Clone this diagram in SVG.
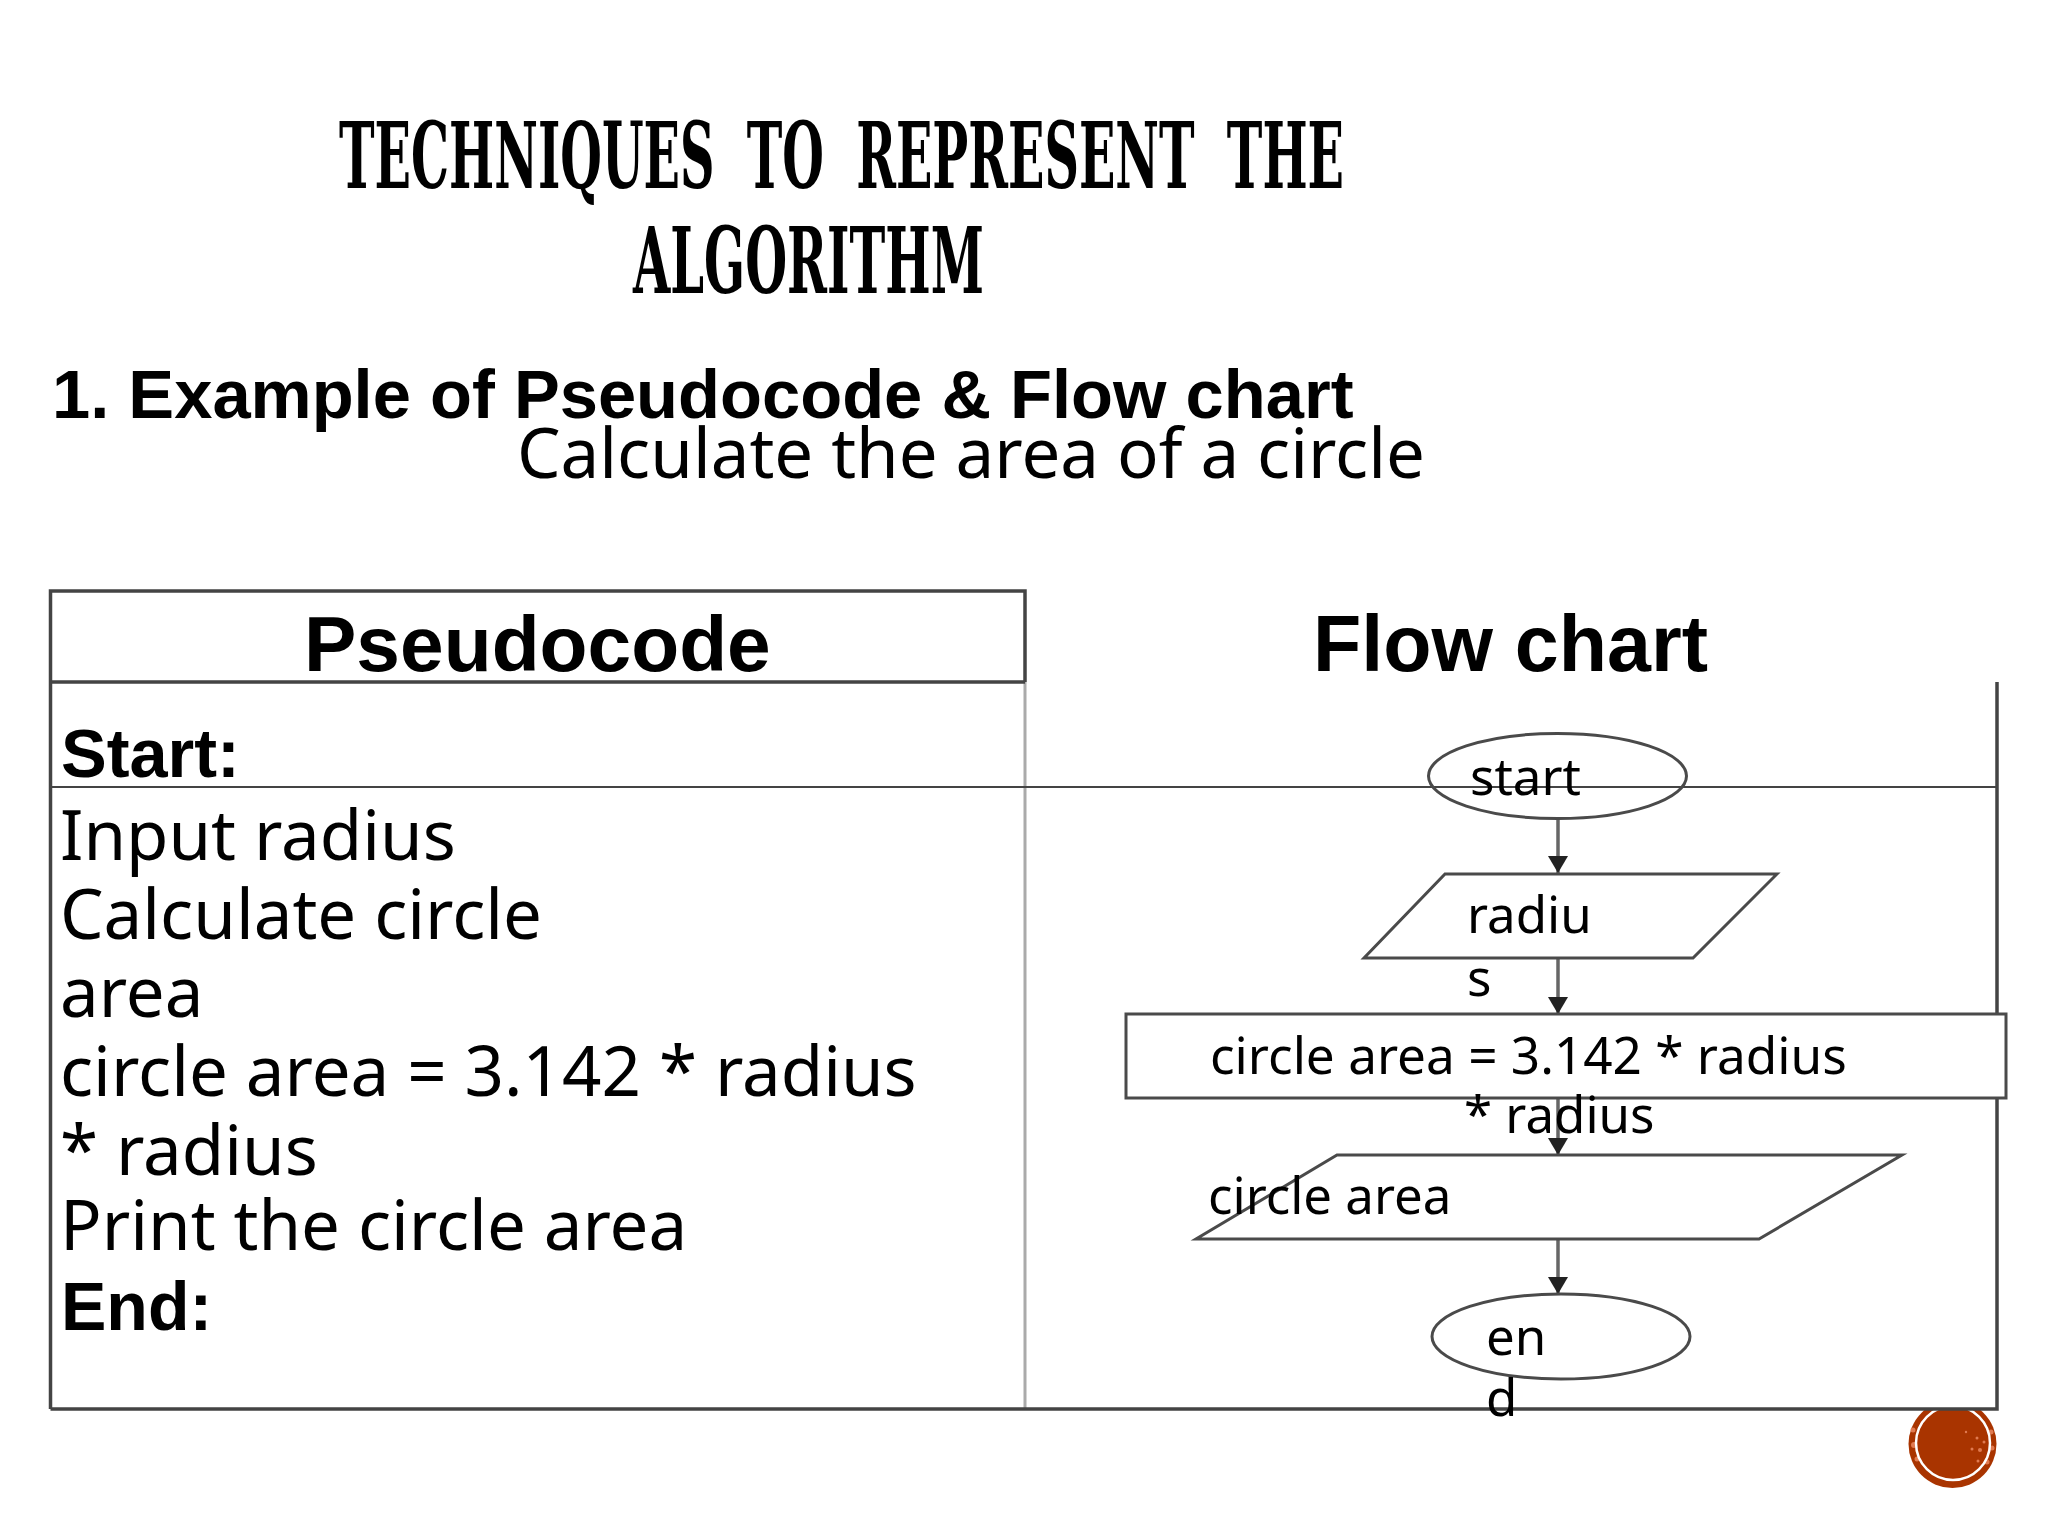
<svg xmlns="http://www.w3.org/2000/svg" width="2048" height="1536" viewBox="0 0 2048 1536">
<style>
text{fill:#000}
.t{font-family:"DejaVu Serif",serif;font-weight:700;font-size:92px}
.b{font-family:"Liberation Sans",Arial,sans-serif;font-weight:700}
.n{font-family:"Noto Sans",sans-serif}
.body{font-size:69px}
.fl{font-size:51px}
.dk{stroke:#444;stroke-width:3.5;fill:none}
.shape{fill:#fff;stroke:#4a4a4a;stroke-width:3}
.con{stroke:#666;stroke-width:3.5;fill:none;marker-end:url(#ah)}
.sp{fill:#e07a50}
</style>
<defs><marker id="ah" markerUnits="userSpaceOnUse" markerWidth="18" markerHeight="20" refX="17" refY="10" orient="auto"><path d="M0 0L17 10L0 20Z" fill="#222"/></marker></defs>
<rect width="2048" height="1536" fill="#fff"/>
<g id="page-badge"><circle cx="1952.5" cy="1444" r="44" fill="#a93400"/>
<g class="sp"><circle cx="1913" cy="1430" r="2.5"/><circle cx="1914" cy="1445" r="3"/><circle cx="1917" cy="1459" r="2.5"/><circle cx="1991" cy="1432" r="2.5"/><circle cx="1992" cy="1448" r="2.5"/><circle cx="1987" cy="1462" r="2.5"/><circle cx="1977" cy="1438" r="1.5"/><circle cx="1972" cy="1449" r="1.5"/><circle cx="1980" cy="1450" r="2"/><circle cx="1978" cy="1461" r="1.5"/><circle cx="1966" cy="1432" r="1.2"/><circle cx="1984" cy="1442" r="1.5"/></g>
<circle cx="1953" cy="1443" r="37" fill="none" stroke="#fff" stroke-width="2.5"/></g>
<g id="heading">
<text class="t" x="339" y="188" textLength="1005" lengthAdjust="spacingAndGlyphs" word-spacing="30">TECHNIQUES TO REPRESENT THE</text>
<text class="t" x="633" y="293" textLength="351" lengthAdjust="spacingAndGlyphs">ALGORITHM</text>
<text class="b" x="52" y="418" font-size="68.7">1. Example of Pseudocode &amp; Flow chart</text>
<text class="n" x="517" y="478" font-size="69">Calculate the area of a circle</text>
</g>
<g id="table">
<rect x="50.5" y="682" width="1946.5" height="727" fill="#fff"/>
<path d="M1025 682V1409" stroke="#aaa" stroke-width="3" fill="none"/>
<path class="dk" d="M50.5 1409V591H1025V682M50.5 682H1025M50.5 1409H1997V682"/>
<path d="M50.5 787H1997" stroke="#444" stroke-width="2" fill="none"/>
<text class="b" x="304" y="671" font-size="78.5">Pseudocode</text>
<text class="b" x="1313" y="671" font-size="79">Flow chart</text>
<text class="b" x="61" y="777" font-size="68.5">Start:</text>
<text class="n body" x="60" y="860">Input radius</text>
<text class="n body" x="60" y="939">Calculate circle</text>
<text class="n body" x="60" y="1017">area</text>
<text class="n body" x="60" y="1096">circle area = 3.142 * radius</text>
<text class="n body" x="60" y="1175">* radius</text>
<text class="n body" x="60" y="1250">Print the circle area</text>
<text class="b" x="61" y="1330" font-size="68">End:</text>
</g>
<g id="connectors">
<path class="con" d="M1558 818V873"/>
<path class="con" d="M1558 958V1014"/>
<path class="con" d="M1558 1098V1155"/>
<path class="con" d="M1558 1239V1294"/>
</g>
<g id="n-start"><ellipse cx="1557.5" cy="776" rx="129" ry="42.5" fill="none" stroke="#4a4a4a" stroke-width="3"/><text class="n fl" x="1470" y="795">start</text></g>
<g id="n-radius"><path class="shape" d="M1445 874H1777L1693 958H1364Z"/><text class="n fl" x="1467" y="933">radiu</text><text class="n fl" x="1467" y="996">s</text></g>
<g id="n-calc"><rect class="shape" x="1126" y="1014" width="880" height="84"/><text class="n fl" font-size="51.3" style="font-size:51.3px" x="1210" y="1074">circle area = 3.142 * radius</text><text class="n fl" x="1464" y="1133">* radius</text></g>
<g id="n-output"><path class="shape" d="M1337 1155H1902L1759 1239H1196Z"/><text class="n fl" x="1208" y="1214">circle area</text></g>
<g id="n-end"><ellipse class="shape" cx="1561" cy="1336.5" rx="129" ry="42.5"/><text class="n fl" x="1486" y="1355">en</text><text class="n fl" x="1486" y="1416">d</text></g>
</svg>
